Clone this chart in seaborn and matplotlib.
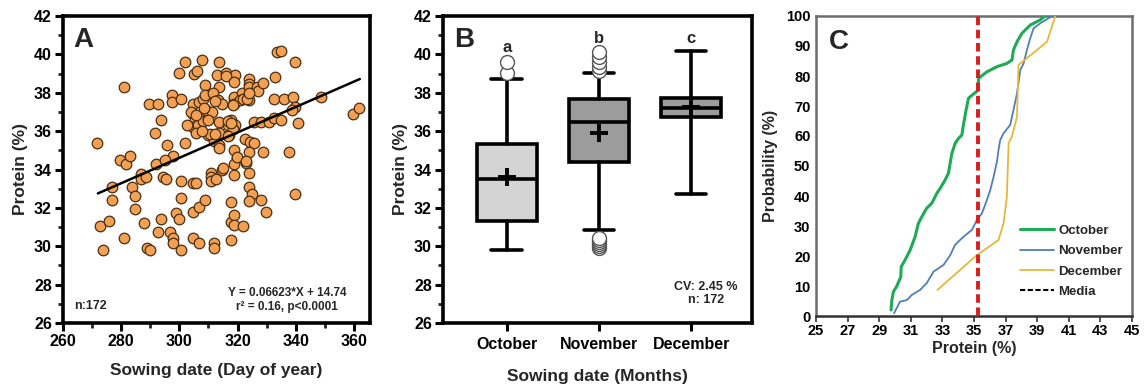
import numpy as np
import pandas as pd
import matplotlib
matplotlib.use("Agg")
import matplotlib.pyplot as plt
import seaborn as sns
from matplotlib.lines import Line2D
from matplotlib.ticker import MultipleLocator, FixedLocator

sns.set_theme(style="white")
plt.rcParams['font.family'] = ['Liberation Sans', 'DejaVu Sans']
plt.rcParams['font.weight'] = 'bold'
plt.rcParams['axes.labelweight'] = 'bold'

# ---------------- Panel A data: sowing date (DOY) vs protein ----------------
doy = [271.7, 280.8, 279.7, 281.7, 282.9, 276.8, 286.9, 286.9, 288.6, 289.7,
       292.8, 293.8, 291.7, 291.8, 295.8, 297.6, 297.6, 300.6, 297.7, 295.1,
       294.4, 295.5, 300.0, 301.9, 304.9, 306.1, 307.7, 313.6, 312.8, 316.1,
       319.0, 313.7, 308.7, 301.8, 304.6, 306.8, 308.0, 308.7, 311.5, 313.4,
       314.5, 304.6, 305.5, 304.8, 306.5, 308.1, 309.7, 309.1, 311.2, 305.7,
       309.7, 311.8, 313.6, 313.7, 313.7, 313.6, 316.9, 316.6, 317.9, 318.9,
       319.2, 318.5, 318.9, 318.9, 318.9, 321.4, 320.9, 323.8, 323.8, 324.0,
       324.0, 326.8, 327.0, 328.9, 325.7, 327.9, 330.9, 332.4, 334.9, 332.7,
       332.6, 335.8, 333.7, 334.9, 339.8, 338.9, 339.8, 338.6, 340.8, 348.7,
       359.8, 361.8, 322.7, 324.1, 325.8, 323.9, 328.9, 337.7, 322.9, 323.8,
       318.7, 319.7, 318.9, 318.7, 314.7, 310.7, 310.7, 310.7, 312.7, 300.7,
       304.6, 305.7,
       272.8, 273.8, 275.9, 276.9, 280.8, 283.8, 284.7, 284.7, 287.7, 288.8,
       289.8, 292.8, 293.8, 296.8, 297.7, 297.7, 298.9, 299.7, 300.7, 300.7,
       304.6, 304.8, 306.6, 306.6, 308.8, 311.8, 311.8, 317.7, 317.7, 318.7,
       318.9, 317.7, 321.7, 323.8, 324.9, 323.8, 327.9, 329.7, 339.8,
       316.0, 318.9, 312.2, 304.0, 305.7, 308.6, 309.7, 316.6, 317.7, 318.4,
       321.7, 323.4, 324.0, 319.8, 322.9, 314.9, 310.5, 312.2, 316.6, 307.7,
       302.5]
protein = [35.4, 38.3, 34.5, 34.3, 34.7, 33.1, 33.75, 33.5, 33.6, 37.4,
           37.4, 36.6, 35.9, 34.3, 35.3, 37.9, 37.5, 37.7, 34.7, 34.5,
           33.6, 33.5, 39.05, 39.6, 39.0, 39.15, 39.7, 39.6, 38.9, 39.05,
           38.95, 38.3, 38.4, 35.4, 37.4, 37.5, 37.7, 37.9, 37.97, 37.6,
           37.4, 36.9, 36.6, 36.2, 36.3, 36.55, 36.7, 37.1, 37.0, 35.9,
           35.8, 35.5, 35.9, 35.3, 35.1, 36.5, 35.8, 36.3, 36.6, 36.2,
           36.3, 36.1, 37.6, 37.8, 37.4, 37.97, 37.6, 37.6, 38.7, 38.45,
           38.3, 38.3, 38.1, 38.5, 36.5, 36.5, 36.5, 36.7, 36.6, 38.8,
           37.7, 37.7, 40.1, 40.2, 39.6, 37.8, 37.24, 37.1, 36.4, 37.8,
           36.9, 37.2, 35.6, 35.45, 35.4, 34.9, 34.9, 34.9, 34.35, 33.8,
           35.0, 34.6, 34.27, 33.7, 34.0, 33.8, 33.6, 33.4, 33.5, 33.4,
           33.3, 33.3,
           31.03, 29.81, 31.34, 32.42, 30.42, 33.11, 32.63, 31.93, 31.2, 29.93,
           29.81, 30.72, 31.41, 30.72, 30.42, 30.16, 31.72, 31.41, 32.5, 29.81,
           30.42, 31.81, 32.04, 30.19, 32.42, 30.19, 29.9, 32.3, 31.24, 31.64,
           31.1, 30.33, 31.03, 33.11, 32.73, 32.35, 32.42, 31.81, 32.73,
           38.85, 38.55, 37.55, 37.0, 36.85, 37.2, 36.6, 36.55, 36.4, 37.35,
           37.65, 37.7, 37.97, 34.65, 34.45, 34.07, 35.85, 35.85, 35.75, 36.0,
           36.3]
fit_slope = 0.06623
fit_intercept = 14.74
fit_range = [272.0, 362.0]

# ---------------- Panel B data: box statistics per month ----------------
months = ["October", "November", "December"]
box_q1 = [31.3, 34.4, 36.72]
box_med = [33.5, 36.5, 37.2]
box_q3 = [35.35, 37.65, 37.75]
box_whislo = [29.8, 30.85, 32.7]
box_whishi = [38.7, 39.05, 40.2]
box_mean = [33.6, 35.9, 37.25]
box_fliers = [[39.05, 39.6],
              [29.9, 30.0, 30.1, 30.2, 30.3, 30.45, 39.15, 39.35, 39.6, 39.85, 40.1],
              []]
sig_letters = ["a", "b", "c"]
sig_y = [40.35, 40.85, 40.85]

# ---------------- Panel C data: cumulative probability curves ----------------
oct_x = [29.75, 29.8, 29.9, 30.1, 30.37, 30.39, 30.64, 30.96, 31.27, 31.48, 31.7,
         32.0, 32.33, 32.65, 32.86, 33.17, 33.38, 33.49, 33.6, 33.81, 34.02,
         34.23, 34.33, 34.5, 34.65, 34.97, 35.28, 35.28, 35.82, 36.45, 37.08,
         37.4, 37.5, 37.72, 38.03, 38.56, 39.2, 39.5]
oct_y = [2.0, 5.3, 8.1, 9.8, 13.1, 16.4, 18.7, 22.0, 26.4, 30.9, 33.1,
         35.9, 37.6, 40.9, 42.6, 45.3, 47.6, 50.9, 54.2, 57.6, 59.2,
         60.3, 63.7, 68.7, 72.6, 74.0, 75.3, 79.2, 81.4, 83.1, 84.2,
         85.3, 88.7, 91.4, 94.2, 97.0, 98.7, 100.0]
nov_x = [29.94, 30.32, 30.75, 31.06, 31.59, 32.0, 32.44, 33.07, 33.5, 33.8,
         34.33, 34.87, 35.18, 35.5, 35.82, 36.03, 36.24, 36.45, 36.55, 36.66,
         36.87, 37.29, 37.5, 37.72, 37.93, 38.14, 38.35, 38.56, 38.77, 39.2,
         39.83, 40.0]
nov_y = [0.9, 4.8, 5.3, 7.0, 8.7, 10.9, 14.8, 17.0, 20.3, 23.7,
         26.4, 28.7, 32.0, 34.2, 38.7, 42.0, 46.4, 51.4, 55.3, 58.7,
         60.9, 63.7, 68.7, 74.2, 82.0, 84.2, 88.7, 92.6, 95.9, 97.6,
         99.6, 100.0]
dec_x = [32.69, 35.18, 36.55, 36.87, 37.08, 37.19, 37.4, 37.72, 37.82, 39.62, 40.15]
dec_y = [8.7, 20.3, 25.3, 30.9, 39.8, 57.6, 59.8, 66.4, 83.7, 91.4, 100.0]
media_value = 35.28
c_xticks = [25, 27, 29, 31, 33, 35, 37, 39, 41, 43, 45]

# ---------------- figure ----------------
W, H = 1146, 387
fig = plt.figure(figsize=(W / 100, H / 100), dpi=100)
fig.patch.set_facecolor("white")

def px_axes(left, top, right, bottom):
    return fig.add_axes([left / W, (H - bottom) / H, (right - left) / W, (bottom - top) / H])

axA = px_axes(63, 16, 370, 323)
axB = px_axes(443, 16, 752, 323)
axC = px_axes(816, 16, 1132, 316)

def style_box(ax):
    for s in ax.spines.values():
        s.set_visible(True)
        s.set_color("black")
        s.set_linewidth(2.6)
    ax.tick_params(axis="both", which="major", direction="out", length=6, width=2.2,
                   labelsize=11.5, colors="black", left=True, bottom=True, pad=2)
    ax.tick_params(axis="both", which="minor", direction="out", length=3.5, width=2.0,
                   left=True, bottom=True)
    for lab in ax.get_xticklabels() + ax.get_yticklabels():
        lab.set_fontweight("bold")

# ---- Panel A ----
sns.scatterplot(x=doy, y=protein, ax=axA, s=58, color="#f2a154",
                edgecolor="#4b2e12", linewidth=0.9, zorder=3)
fx = np.array(fit_range)
axA.plot(fx, fit_slope * fx + fit_intercept, color="black", lw=1.8, zorder=4)
axA.set_xlim(260, 365.5)
axA.set_ylim(26, 42)
axA.xaxis.set_major_locator(MultipleLocator(20))
axA.xaxis.set_minor_locator(MultipleLocator(10))
axA.yaxis.set_major_locator(MultipleLocator(2))
axA.yaxis.set_minor_locator(MultipleLocator(1))
style_box(axA)
axA.set_xlabel("Sowing date (Day of year)", fontsize=12.5, fontweight="bold", labelpad=10)
axA.set_ylabel("Protein (%)", fontsize=12.5, fontweight="bold", labelpad=4)
axA.text(0.035, 0.965, "A", transform=axA.transAxes, fontsize=20, fontweight="bold",
         va="top", ha="left")
axA.text(0.035, 0.035, "n:172", transform=axA.transAxes, fontsize=9, fontweight="bold",
         va="bottom", ha="left")
axA.text(337, 27.55, "Y = 0.06623*X + 14.74", fontsize=8.5, fontweight="bold",
         ha="center", va="center")
axA.text(337, 26.85, "r² = 0.16, p<0.0001", fontsize=8.5, fontweight="bold",
         ha="center", va="center")

# ---- Panel B ----
stats = []
for i, m in enumerate(months):
    stats.append(dict(label=m, q1=box_q1[i], med=box_med[i], q3=box_q3[i],
                      whislo=box_whislo[i], whishi=box_whishi[i],
                      mean=box_mean[i], fliers=box_fliers[i]))
box_colors = ["#d4d4d4", "#9c9c9c", "#9c9c9c"]
bp = axB.bxp(stats, positions=[0, 1, 2], widths=0.65, capwidths=0.33,
             showmeans=True, patch_artist=True,
             boxprops=dict(linewidth=2.6, edgecolor="black"),
             medianprops=dict(color="black", linewidth=2.6),
             whiskerprops=dict(color="black", linewidth=2.6),
             capprops=dict(color="black", linewidth=2.6),
             meanprops=dict(marker="+", markersize=13, markeredgewidth=2.8,
                            markeredgecolor="black", markerfacecolor="black"),
             flierprops=dict(marker="o", markersize=10, markerfacecolor="white",
                             markeredgecolor="#555555", markeredgewidth=1.0))
for patch, c in zip(bp["boxes"], box_colors):
    patch.set_facecolor(c)
axB.set_xlim(-0.69, 2.66)
axB.set_ylim(26, 42)
axB.set_xticks([0, 1, 2])
axB.set_xticklabels(months)
axB.yaxis.set_major_locator(MultipleLocator(2))
axB.yaxis.set_minor_locator(MultipleLocator(1))
style_box(axB)
axB.tick_params(axis="x", which="minor", length=0)
axB.tick_params(axis="x", labelsize=11.5, pad=4)
axB.set_xlabel("Sowing date (Months)", fontsize=12.5, fontweight="bold", labelpad=12)
axB.set_ylabel("Protein (%)", fontsize=12.5, fontweight="bold", labelpad=4)
for i, (lt, yy) in enumerate(zip(sig_letters, sig_y)):
    axB.text(i, yy, lt, fontsize=12, fontweight="bold", ha="center", va="center")
axB.text(0.035, 0.965, "B", transform=axB.transAxes, fontsize=20, fontweight="bold",
         va="top", ha="left")
axB.text(2.16, 27.9, "CV: 2.45 %", fontsize=9, fontweight="bold", ha="center", va="center")
axB.text(2.16, 27.2, "n: 172", fontsize=9, fontweight="bold", ha="center", va="center")

# ---- Panel C ----
curve_df = pd.concat([
    pd.DataFrame({"Protein": oct_x, "Prob": oct_y, "Month": "October"}),
    pd.DataFrame({"Protein": nov_x, "Prob": nov_y, "Month": "November"}),
    pd.DataFrame({"Protein": dec_x, "Prob": dec_y, "Month": "December"}),
], ignore_index=True)
palette = {"October": "#1faa55", "November": "#4f7fb8", "December": "#e8b737"}
widths = {"October": 2.2, "November": 1.3, "December": 1.3}
for m in ["October", "November", "December"]:
    sub = curve_df[curve_df["Month"] == m]
    sns.lineplot(data=sub, x="Protein", y="Prob", ax=axC, sort=False,
                 color=palette[m], lw=widths[m], estimator=None, zorder=3)
axC.axvline(media_value, color="#d91c1c", lw=2.8, ls=(0, (2.2, 1.2)), zorder=4)
axC.set_xlim(25, 45)
axC.set_ylim(0, 100)
axC.xaxis.set_major_locator(FixedLocator(c_xticks))
axC.yaxis.set_major_locator(MultipleLocator(10))
for s in axC.spines.values():
    s.set_visible(True)
    s.set_color("#6d6d6d")
    s.set_linewidth(1.8)
axC.spines["bottom"].set_color("#333333")
axC.tick_params(axis="x", direction="out", length=4, width=1.2, colors="#333333",
                labelcolor="black", labelsize=10.5, bottom=True, pad=2)
axC.tick_params(axis="y", direction="out", length=0, labelsize=10.5, left=True,
                labelcolor="black", pad=4)
for lab in axC.get_xticklabels() + axC.get_yticklabels():
    lab.set_fontweight("bold")
axC.set_xlabel("Protein (%)", fontsize=11.5, fontweight="bold", labelpad=2)
axC.set_ylabel("Probability (%)", fontsize=11.5, fontweight="bold", labelpad=6)
axC.text(0.04, 0.955, "C", transform=axC.transAxes, fontsize=20, fontweight="bold",
         va="top", ha="left")
handles = [Line2D([], [], color=palette["October"], lw=2.2),
           Line2D([], [], color=palette["November"], lw=1.3),
           Line2D([], [], color=palette["December"], lw=1.3),
           Line2D([], [], color="black", lw=1.5, ls=(0, (2.5, 1.2)))]
leg = axC.legend(handles, ["October", "November", "December", "Media"],
                 loc="upper left", bbox_to_anchor=(0.645, 0.305), frameon=False,
                 fontsize=9.5, handlelength=2.6, handletextpad=0.3, labelspacing=0.62,
                 borderaxespad=0, borderpad=0)
for t in leg.get_texts():
    t.set_fontweight("bold")

fig.savefig("out.png", dpi=100, facecolor="white")
